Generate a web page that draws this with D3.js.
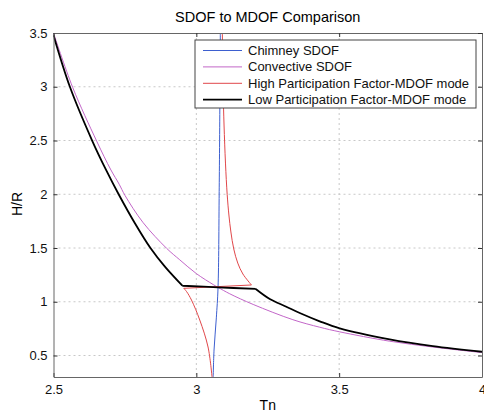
<!DOCTYPE html>
<html>
<head>
<meta charset="utf-8">
<script src="https://cdn.jsdelivr.net/npm/d3@7"></script>
<style>
  body { margin: 0; background: #fff; }
  svg { font-family: "Liberation Sans", Arial, sans-serif; }
</style>
</head>
<body>
<div id="chart"></div>
<script>
// values
const chimneyTn = [3.059, 3.062, 3.070, 3.076, 3.080, 3.084];
const chimneyHR = [0.30, 0.551, 0.85, 1.134, 2.024, 3.50];

const convTn = [2.500, 2.567, 2.651, 2.701, 2.730, 2.750, 2.814, 2.896, 2.942, 3.000, 3.059, 3.076, 3.117, 3.199, 3.338, 3.432, 3.502, 3.677, 3.828, 4.000];
const convHR = [3.500, 2.995, 2.495, 2.226, 2.093, 1.990, 1.735, 1.497, 1.390, 1.262, 1.160, 1.134, 1.074, 0.975, 0.833, 0.763, 0.720, 0.633, 0.579, 0.527];

// upper branch, straight link, lower branch
const highTn = [3.091, 3.094, 3.097, 3.102, 3.108, 3.114, 3.121, 3.131, 3.145, 3.163, 3.193, 2.956, 2.966, 2.983, 3.012, 3.041, 3.055];
const highHR = [3.500, 2.949, 2.644, 2.290, 1.998, 1.807, 1.649, 1.491, 1.360, 1.258, 1.156, 1.125, 1.094, 1.016, 0.830, 0.579, 0.300];
const highCorners = [10, 11];

const lowTn = [2.500, 2.558, 2.636, 2.684, 2.728, 2.785, 2.840, 2.890, 2.951, 3.076, 3.208, 3.257, 3.315, 3.362, 3.432, 3.502, 3.677, 3.828, 4.000];
const lowHR = [3.480, 2.995, 2.495, 2.226, 2.000, 1.730, 1.497, 1.326, 1.149, 1.134, 1.119, 1.026, 0.954, 0.895, 0.818, 0.753, 0.651, 0.588, 0.535];
const lowCorners = [8, 10];

const xTicks = [2.5, 3, 3.5, 4];
const yTicks = [0.5, 1, 1.5, 2, 2.5, 3, 3.5];

const series = [
  { name: "Chimney SDOF", tn: chimneyTn, hr: chimneyHR, corners: [], color: "#3d5fcf", w: 1 },
  { name: "Convective SDOF", tn: convTn, hr: convHR, corners: [], color: "#c266c8", w: 1 },
  { name: "High Participation Factor-MDOF mode", tn: highTn, hr: highHR, corners: highCorners, color: "#e0474a", w: 1 },
  { name: "Low Participation Factor-MDOF mode", tn: lowTn, hr: lowHR, corners: lowCorners, color: "#000000", w: 1.8 }
];

const width = 484, height = 412;
const margin = { top: 33, right: 2, bottom: 35, left: 53.5 };
const innerW = width - margin.left - margin.right,
      innerH = height - margin.top - margin.bottom;

const svg = d3.select("#chart").append("svg")
  .attr("width", width)
  .attr("height", height);

const x = d3.scaleLinear().domain([2.5, 4]).range([0, innerW]);
const y = d3.scaleLinear().domain([0.3, 3.5]).range([innerH, 0]);

const g = svg.append("g").attr("transform", `translate(${margin.left},${margin.top})`);

svg.append("defs").append("clipPath").attr("id", "clip")
  .append("rect").attr("width", innerW).attr("height", innerH);

// grid
g.append("g").selectAll("line").data(xTicks.slice(1, -1)).enter().append("line")
  .attr("x1", d => x(d)).attr("x2", d => x(d))
  .attr("y1", 0).attr("y2", innerH)
  .attr("stroke", "#c8c8c8").attr("stroke-dasharray", "2,3");
g.append("g").selectAll("line").data(yTicks.slice(0, -1)).enter().append("line")
  .attr("x1", 0).attr("x2", innerW)
  .attr("y1", d => y(d)).attr("y2", d => y(d))
  .attr("stroke", "#c8c8c8").attr("stroke-dasharray", "2,3");

// curves - smooth between corners
const line = d3.line().x(d => x(d[0])).y(d => y(d[1])).curve(d3.curveCatmullRom.alpha(0.5));
const curves = g.append("g").attr("clip-path", "url(#clip)");
series.forEach(s => {
  const pts = d3.zip(s.tn, s.hr);
  const cuts = [0, ...s.corners, pts.length - 1];
  let d = "";
  for (let i = 0; i < cuts.length - 1; i++) {
    d += line(pts.slice(cuts[i], cuts[i + 1] + 1));
  }
  curves.append("path")
    .attr("d", d)
    .attr("fill", "none")
    .attr("stroke", s.color)
    .attr("stroke-width", s.w)
    .attr("stroke-linejoin", "round");
});

// axes, matlab style ticks inside
const axisColor = "#666";
function styleAxis(sel) {
  sel.select(".domain").attr("stroke", axisColor);
  sel.selectAll(".tick line").attr("stroke", "#333");
  sel.selectAll("text").attr("fill", "#111").style("font-size", "13px");
}
g.append("g").attr("transform", `translate(0,${innerH})`)
  .call(d3.axisBottom(x).tickValues(xTicks).tickFormat(d3.format("")).tickSizeInner(-4).tickSizeOuter(0).tickPadding(8))
  .call(styleAxis);
g.append("g")
  .call(d3.axisLeft(y).tickValues(yTicks).tickFormat(d3.format("")).tickSizeInner(-4).tickSizeOuter(0).tickPadding(6))
  .call(styleAxis);
g.append("g")
  .call(d3.axisTop(x).tickValues(xTicks).tickFormat("").tickSizeInner(-4).tickSizeOuter(0))
  .call(styleAxis);
g.append("g").attr("transform", `translate(${innerW},0)`)
  .call(d3.axisRight(y).tickValues(yTicks).tickFormat("").tickSizeInner(-4).tickSizeOuter(0))
  .call(styleAxis);

// legend
const legend = svg.append("g").attr("transform", "translate(195,40)");
legend.append("rect")
  .attr("width", 281).attr("height", 68)
  .attr("fill", "#fff").attr("stroke", "#444");
series.forEach((s, i) => {
  const ly = 10.5 + i * 16.4;
  legend.append("line")
    .attr("x1", 8).attr("x2", 47)
    .attr("y1", ly).attr("y2", ly)
    .attr("stroke", s.color).attr("stroke-width", s.w);
  legend.append("text")
    .attr("x", 53).attr("y", ly + 4.5)
    .style("font-size", "13px")
    .attr("fill", "#111")
    .text(s.name);
});

// titles
svg.append("text")
  .attr("x", margin.left + innerW / 2).attr("y", 22)
  .attr("text-anchor", "middle")
  .style("font-size", "14.5px")
  .text("SDOF to MDOF Comparison");
svg.append("text")
  .attr("x", margin.left + innerW / 2).attr("y", 410)
  .attr("text-anchor", "middle")
  .style("font-size", "14px")
  .text("Tn");
svg.append("text")
  .attr("transform", "translate(22,204) rotate(-90)")
  .attr("text-anchor", "middle")
  .style("font-size", "14px")
  .text("H/R");
</script>
</body>
</html>
